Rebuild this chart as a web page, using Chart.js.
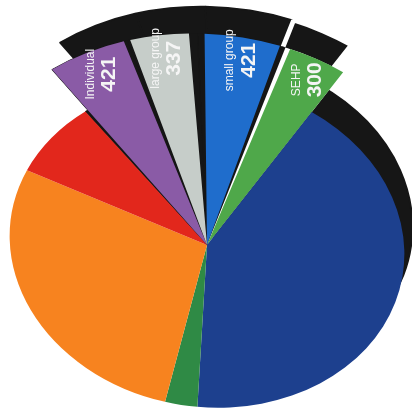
<!DOCTYPE html>
<html><head><meta charset="utf-8">
<script src="https://cdn.jsdelivr.net/npm/chart.js@4/dist/chart.umd.min.js"></script>
<style>html,body{margin:0;padding:0;background:#fff;overflow:hidden}#wrap{width:412px;height:412px}</style>
</head><body><div id="wrap"><canvas id="c" width="412" height="412"></canvas></div>
<script>
// ---- data ----
const categories = ['small group', 'SEHP', '', '', '', '', 'Individual', 'large group'];
const values = [421, 300, 3180, 200, 2150, 585, 421, 337];
const labelledSlices = [true, true, false, false, false, false, true, true];

// ---- style ----
const colors = ['#1f6dcc', '#4fa84a', '#1d408e', '#2f8a45', '#f7831f', '#e2271c', '#8a5ba6', '#c6cdc9'];
const startInset = [1.6, 1.1, 0, 0, 0, 0, 0.9, 0.7];   // degrees
const endInset   = [1.3, 0, 0, 0, 0, 0, 0.8, 1.9];
const EXPLODE = 1.3;
const SHIFT = {x: 8, y: -27};
const VIEW = {cx: 207, cy: 245, a: 198, sy: 0.818, rot: 8 * Math.PI / 180};
const SHADOW = '#161616';
const DEG = Math.PI / 180;

function applyView(ctx, chart) {
  const meta = chart.getDatasetMeta(0);
  const R = meta.controller.outerRadius;
  const el = meta.data[0];
  const k = VIEW.a / R;
  ctx.translate(VIEW.cx, VIEW.cy);
  ctx.rotate(VIEW.rot);
  ctx.scale(k, k * VIEW.sy);
  ctx.translate(-el.x, -el.y);
}

function copyArc(el, color, bColor, bWidth, o) {
  o = o || {};
  const s = o.start !== undefined ? o.start : el._fs;
  const e = o.end !== undefined ? o.end : el._fe;
  return new Chart.ArcElement({
    x: el.x, y: el.y, startAngle: s, endAngle: e,
    innerRadius: el.innerRadius, outerRadius: o.radius || el.outerRadius, circumference: e - s,
    options: Object.assign({}, el.options, {backgroundColor: color, borderColor: bColor, borderWidth: bWidth})
  });
}

const tiltPlugin = {
  id: 'tilt',
  afterDatasetUpdate(chart, args) {
    const meta = args.meta;
    meta.data.forEach((el, i) => {
      el._fs = el.startAngle; el._fe = el.endAngle;
      if (labelledSlices[i]) {
        el.outerRadius = meta.controller.outerRadius * EXPLODE;
        el.startAngle = el._fs + startInset[i] * DEG;
        el.endAngle = el._fe - endInset[i] * DEG;
        el.circumference = el.endAngle - el.startAngle;
      }
    });
  },
  beforeDatasetsDraw(chart) {
    const ctx = chart.ctx, meta = chart.getDatasetMeta(0);
    const R = meta.controller.outerRadius;
    // raised (shifted) dark sides
    ctx.save();
    ctx.translate(SHIFT.x, SHIFT.y);
    applyView(ctx, chart);
    [0, 2, 7].forEach(i => copyArc(meta.data[i], SHADOW, SHADOW, 2).draw(ctx));
    copyArc(meta.data[6], SHADOW, SHADOW, 2, {start: meta.data[6].startAngle}).draw(ctx);
    copyArc(meta.data[1], SHADOW, '#ffffff', 5).draw(ctx);
    ctx.restore();
    // dark underlay between the pulled-out wedges, white gap before SEHP
    ctx.save();
    applyView(ctx, chart);
    [0, 7].forEach(i => copyArc(meta.data[i], SHADOW, SHADOW, 1).draw(ctx));
    const ind = meta.data[6];
    copyArc(ind, SHADOW, SHADOW, 1, {radius: R}).draw(ctx);
    copyArc(ind, SHADOW, SHADOW, 1, {start: ind.startAngle}).draw(ctx);
    copyArc(meta.data[1], '#ffffff', '#ffffff', 0).draw(ctx);
    ctx.restore();
    ctx.save();
    applyView(ctx, chart);
  },
  afterDatasetsDraw(chart) {
    const ctx = chart.ctx, meta = chart.getDatasetMeta(0);
    ctx.restore();
    ctx.save();
    applyView(ctx, chart);
    const m = ctx.getTransform();
    ctx.restore();
    meta.data.forEach((el, i) => {
      if (!labelledSlices[i]) return;
      const mid = (el.startAngle + el.endAngle) / 2;
      const r = el.outerRadius * 0.89;
      const p = m.transformPoint(new DOMPoint(el.x + Math.cos(mid) * r, el.y + Math.sin(mid) * r));
      ctx.save();
      ctx.translate(p.x, p.y);
      ctx.rotate(-Math.PI / 2);
      ctx.fillStyle = '#f5f5f5';
      ctx.textAlign = 'center';
      ctx.textBaseline = 'middle';
      ctx.font = '12px "Liberation Sans", Arial, sans-serif';
      ctx.fillText(categories[i], 0, -9);
      ctx.font = 'bold 21px "Liberation Sans", Arial, sans-serif';
      ctx.fillText(String(values[i]), 0, 10);
      ctx.restore();
    });
  }
};

new Chart(document.getElementById('c'), {
  type: 'pie',
  data: {
    labels: categories,
    datasets: [{
      data: values,
      backgroundColor: colors,
      borderWidth: 0,
      clip: false
    }]
  },
  options: {
    responsive: false,
    animation: false,
    events: [],
    rotation: -8.7,
    layout: {padding: 0},
    plugins: {legend: {display: false}, tooltip: {enabled: false}}
  },
  plugins: [tiltPlugin]
});
</script>
</body></html>
